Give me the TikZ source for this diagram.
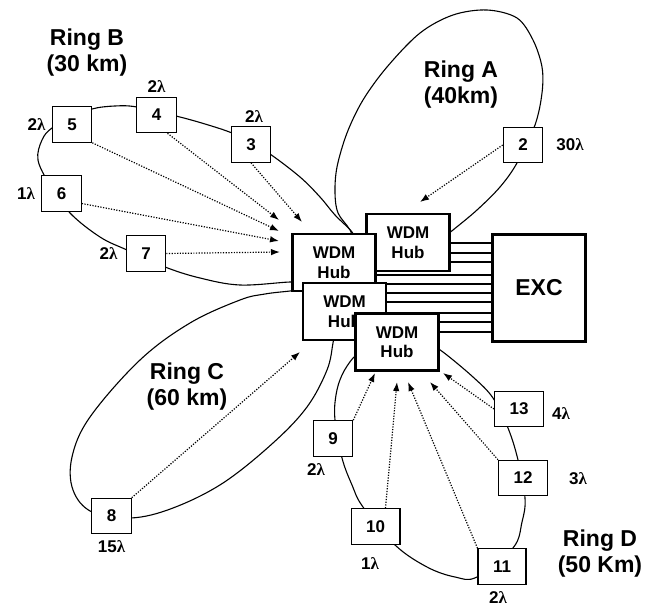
\documentclass[tikz,border=0pt]{standalone}
\usepackage{fontspec}
\setmainfont{Liberation Sans}
\newfontfamily\lamfont{Liberation Serif}
\usepackage{tikz}
\usetikzlibrary{arrows.meta,positioning,calc}
\newcommand{\lmb}{{\lamfont\bfseries λ}}
\tikzset{
  rnbox/.style={
    rectangle, draw=black, fill=white, line width=1.1pt,
    minimum width=38pt, minimum height=35.5pt, inner xsep=15pt, inner ysep=1pt,
    font=\fontsize{17}{19}\selectfont\bfseries
  },
  rnhub/.style={
    rectangle, draw=black, fill=white, line width=2.6pt,
    minimum width=83pt, minimum height=57pt, inner sep=1pt, align=center,
    font=\fontsize{17}{19.5}\selectfont\bfseries
  },
  rnexc/.style={rnhub, minimum width=93pt, minimum height=107pt,
    font=\fontsize{23}{26}\selectfont\bfseries},
  rnring/.style={line width=1.1pt},
  rnlink/.style={line width=1.1pt},
  rnarrow/.style={-{Latex[length=9pt,width=6.5pt]}, line width=1.2pt,
    dash pattern=on 1.2pt off 1.5pt},
  rntitle/.style={font=\fontsize{23}{26}\selectfont\bfseries, align=center},
  rnlabel/.style={font=\fontsize{17}{19}\selectfont\bfseries, inner sep=0pt}
}

\begin{document}
\begin{tikzpicture}[x=1pt,y=-1pt]
  \useasboundingbox (0,0) rectangle (645,610);

  % rings, drawn first so that hubs and stations cover them
  \draw[rnring] plot[smooth,tension=0.55] coordinates {(358,250) (350,230) (338,213) (335,193) (337,167)
    (347,133) (363,100) (387,67) (420,33) (453,15) (487,10) (517,18) (533,40) (542,67) (542,93)
    (535,125) (517,163) (500,187) (477,210) (453,230) (440,240)};
  \draw[rnring] plot[smooth,tension=0.6] coordinates {(305,283) (290,282) (240,285) (200,278) (165,267)
    (127,250) (100,237) (70,213) (50,185) (38,160) (42,140) (52,128) (72,118) (92,109) (115,106)
    (137,107) (176,116) (205,124) (232,133) (251,143) (270,154) (300,177) (320,197) (335,215)
    (352,232) (358,245)};
  \draw[rnring] plot[smooth,tension=0.6] coordinates {(305,289) (290,291) (265,294) (240,300) (190,323)
    (140,360) (90,417) (72,457) (73,490) (92,512) (131,518) (173,508) (223,483) (273,443) (307,407)
    (327,370) (333,343) (335,330)};
  \draw[rnring] plot[smooth,tension=0.6] coordinates {(362,352) (353,358) (342,375) (336,395) (335,420)
    (342,458) (352,485) (363,507) (395,545) (427,567) (455,577) (477,577) (513,548) (522,522)
    (525,498) (518,460) (508,428) (493,398) (473,377) (443,352) (432,346)};

  % WDM hubs and the cross-connect
  \node[rnhub] (hubA) at (408,242.5) {WDM\\Hub};
  \node[rnhub] (hubB) at (334,262.5) {WDM\\Hub};
  \node[rnhub] (hubC) at (344.5,311.5) {WDM\\Hub};
  \node[rnhub] (hubD) at (397,342) {WDM\\Hub};
  \node[rnexc] (exc) at (539,288) {EXC};
  \foreach \yy in {243,253,262} \draw[rnlink] (hubA.east |- 0,\yy) -- (exc.west |- 0,\yy);
  \draw[rnlink] (hubB.east |- 0,275) -- (exc.west |- 0,275);
  \foreach \yy in {284,293,302} \draw[rnlink] (hubC.east |- 0,\yy) -- (exc.west |- 0,\yy);
  \foreach \yy in {313,322,332} \draw[rnlink] (hubD.east |- 0,\yy) -- (exc.west |- 0,\yy);

  % Ring A
  \node[rntitle] (ringA) at (461,85) {Ring A\\(40km)};
  \node[rnbox] (n2) at (523,145) {2};
  \node[rnlabel,right=13pt of n2] (l2) {30\lmb};
  \coordinate (p2) at (420,202);
  \draw[rnarrow] (n2.west) -- (p2);

  % Ring B
  \node[rntitle] (ringB) at (87,52.5) {Ring B\\(30 km)};
  \node[rnbox] (n3) at (251,144.5) {3};
  \node[rnbox] (n4) at (156.5,115) {4};
  \node[rnbox] (n5) at (72,124.5) {5};
  \node[rnbox] (n6) at (61.5,193.5) {6};
  \node[rnbox] (n7) at (146,253.5) {7};
  \node[rnlabel] (l3) at (254,117) {2\lmb};
  \node[rnlabel,above=4pt of n4] (l4) {2\lmb};
  \node[rnlabel,left=6pt of n5] (l5) {2\lmb};
  \node[rnlabel,left=6pt of n6] (l6) {1\lmb};
  \node[rnlabel,left=8pt of n7] (l7) {2\lmb};
  \coordinate (p3) at (302,222);
  \coordinate (p4) at (279,220);
  \coordinate (p5) at (279,231);
  \coordinate (p6) at (279,241);
  \coordinate (p7) at (280,252);
  \draw[rnarrow] (n3.south) -- (p3);
  \draw[rnarrow] ([xshift=11pt]n4.south) -- (p4);
  \draw[rnarrow] (n5.south east) -- (p5);
  \draw[rnarrow] ([yshift=-10pt]n6.east) -- (p6);
  \draw[rnarrow] (n7.east) -- (p7);

  % Ring C
  \node[rntitle] (ringC) at (187,386.5) {Ring C\\(60 km)};
  \node[rnbox] (n8) at (111.5,516) {8};
  \node[rnlabel,below=6pt of n8] (l8) {15\lmb};
  \coordinate (p8) at (300,352);
  \draw[rnarrow] (n8.north east) -- (p8);

  % Ring D
  \node[rntitle] (ringD) at (600,553.5) {Ring D\\(50 Km)};
  \node[rnbox] (n9) at (333,438.5) {9};
  \node[rnbox] (n10) at (375.5,526.5) {10};
  \node[rnbox] (n11) at (502,566.5) {11};
  \node[rnbox] (n12) at (523,478) {12};
  \node[rnbox] (n13) at (519,409) {13};
  \node[rnlabel] (l9) at (316,470) {2\lmb};
  \node[rnlabel] (l10) at (370,564) {1\lmb};
  \node[rnlabel] (l11) at (498,598) {2\lmb};
  \node[rnlabel] (l12) at (578,479) {3\lmb};
  \node[rnlabel] (l13) at (561,414) {4\lmb};
  \coordinate (p9) at (375,373);
  \coordinate (p10) at (397,382);
  \coordinate (p11) at (408,382);
  \coordinate (p12) at (430,382);
  \coordinate (p13) at (443,373);
  \draw[rnarrow] (n9.north east) -- (p9);
  \draw[rnarrow] ([xshift=10pt]n10.north) -- (p10);
  \draw[rnarrow] (n11.north west) -- (p11);
  \draw[rnarrow] (n12.north west) -- (p12);
  \draw[rnarrow] (n13.west) -- (p13);
\end{tikzpicture}
\end{document}
